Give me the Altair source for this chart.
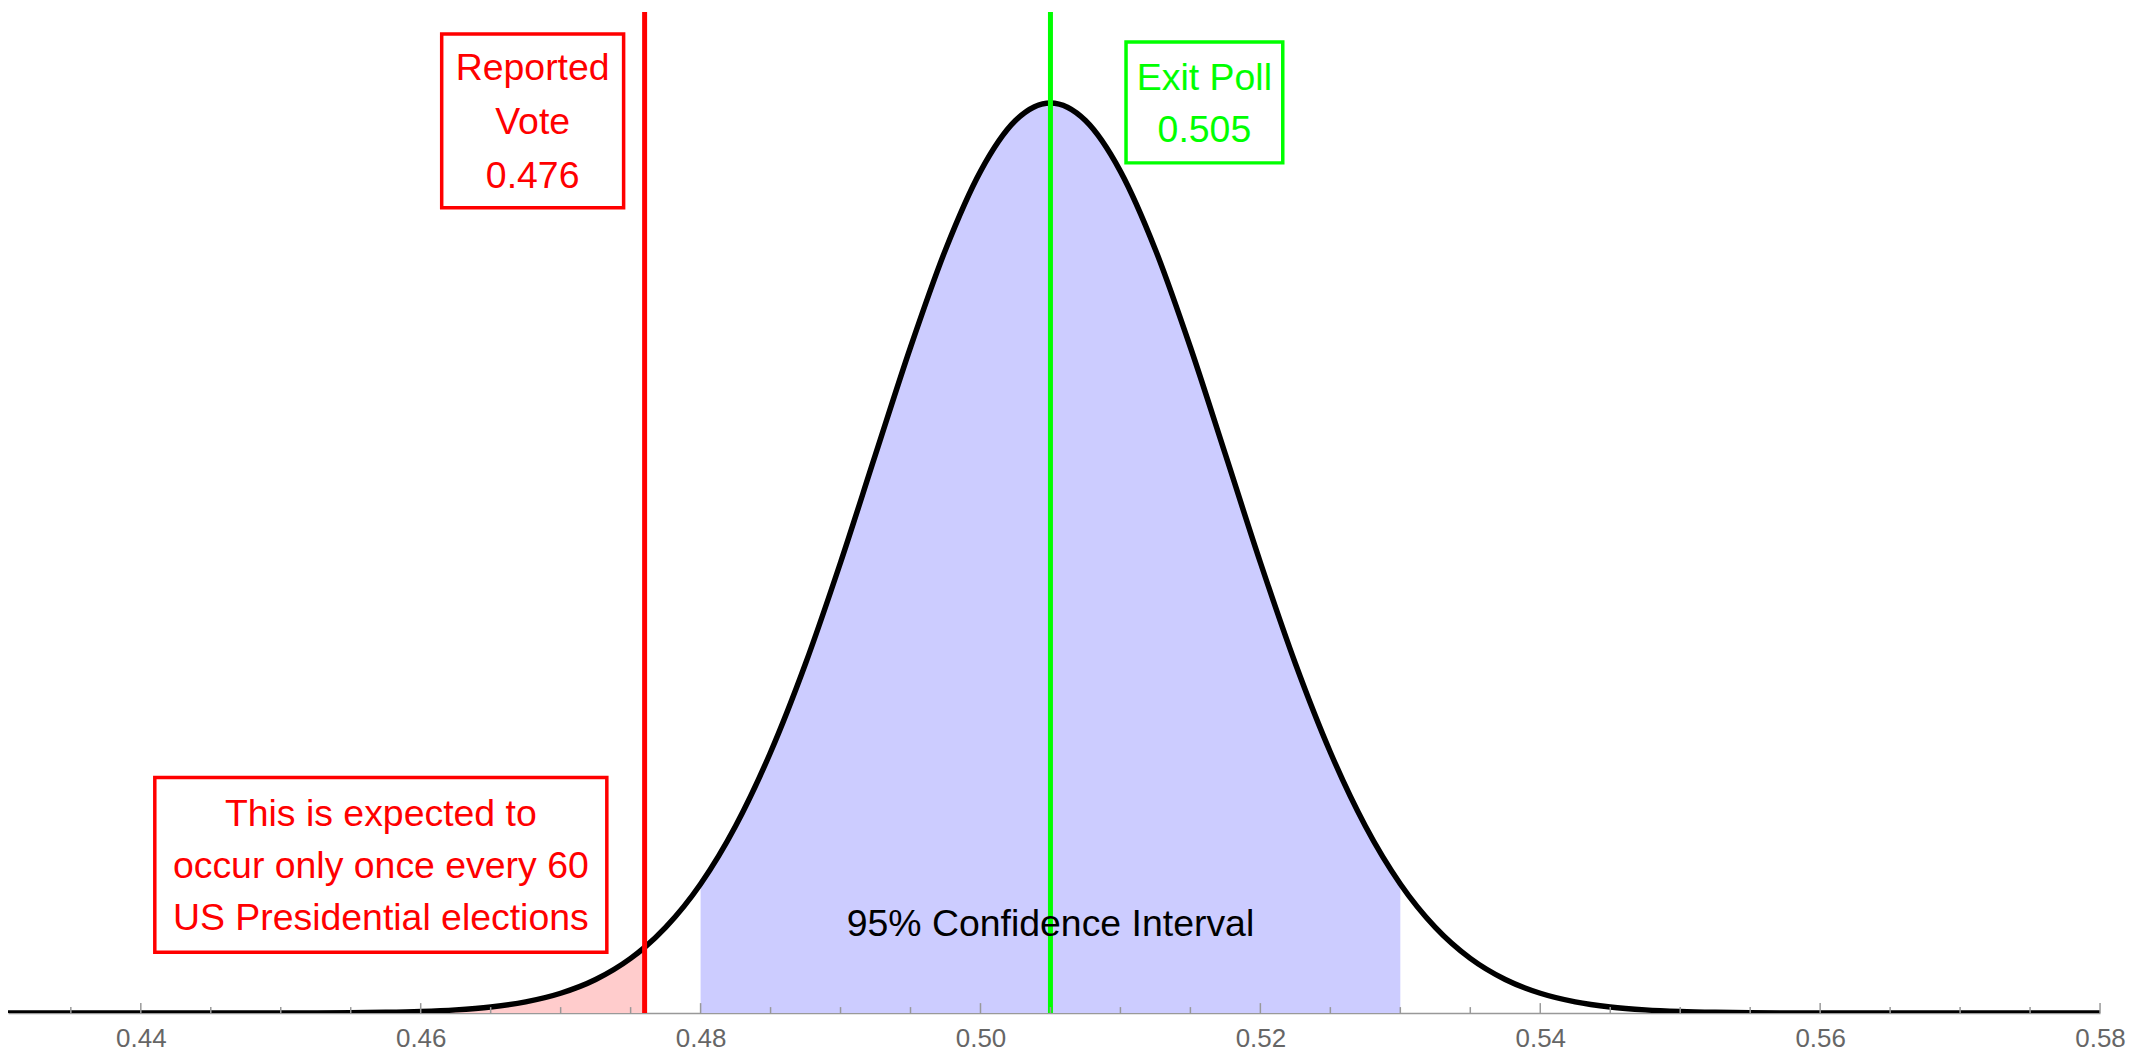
import altair as alt
import pandas as pd

# ---- data ----
curve_x = [0.4300, 0.4325, 0.4350, 0.4375, 0.4400, 0.4425, 0.4450, 0.4475,
           0.4500, 0.4525, 0.4550, 0.4575, 0.4600, 0.4625, 0.4650, 0.4675,
           0.4700, 0.4725, 0.4750, 0.4760, 0.4775, 0.4800, 0.4825, 0.4850,
           0.4875, 0.4900, 0.4925, 0.4950, 0.4975, 0.5000, 0.5025, 0.5050,
           0.5075, 0.5100, 0.5125, 0.5150, 0.5175, 0.5200, 0.5225, 0.5250,
           0.5275, 0.5300, 0.5325, 0.5350, 0.5375, 0.5400, 0.5425, 0.5450,
           0.5475, 0.5500, 0.5525, 0.5550, 0.5575, 0.5600, 0.5625, 0.5650,
           0.5675, 0.5700, 0.5725, 0.5750, 0.5775, 0.5800]
curve_y = [0.0, 0.0, 0.0, 0.0, 0.000002, 0.000005, 0.000013, 0.000033,
           0.00008, 0.00018, 0.00041, 0.00087, 0.00179, 0.00354, 0.00674, 0.01236,
           0.0218, 0.0369, 0.0601, 0.0722, 0.0942, 0.1419, 0.2056, 0.2866,
           0.3841, 0.4951, 0.6138, 0.7316, 0.8388, 0.9249, 0.9807, 1.0,
           0.9807, 0.9249, 0.8388, 0.7316, 0.6138, 0.4951, 0.3841, 0.2866,
           0.2056, 0.1419, 0.0942, 0.0601, 0.0369, 0.0218, 0.01236, 0.00674,
           0.00354, 0.00179, 0.00087, 0.00041, 0.00018, 0.00008, 0.00003, 0.00001,
           0.000005, 0.0, 0.0, 0.0, 0.0, 0.0]

major_ticks = [0.44, 0.46, 0.48, 0.50, 0.52, 0.54, 0.56, 0.58]
minor_ticks = [0.435, 0.445, 0.45, 0.455, 0.465, 0.47, 0.475, 0.485, 0.49,
               0.495, 0.505, 0.51, 0.515, 0.525, 0.53, 0.535, 0.545, 0.55,
               0.555, 0.565, 0.57, 0.575]

reported_vote = 0.476
exit_poll = 0.505
ci_low = 0.48
ci_high = 0.53

reported_lines = ["Reported", "Vote", "0.476"]
exit_lines = ["Exit Poll", "0.505"]
rare_lines = ["This is expected to", "occur only once every 60", "US Presidential elections"]
ci_label = "95% Confidence Interval"

# annotation anchors (data coordinates)
reported_box = dict(x=0.4615, x2=0.4745, y=1.0757, y2=0.8849)
reported_anchor = dict(x=0.4680, y=1.0252)
exit_box = dict(x=0.5104, x2=0.5216, y=1.0669, y2=0.9342)
exit_anchor = dict(x=0.5160, y=1.0143)
rare_box = dict(x=0.4410, x2=0.4733, y=0.2588, y2=0.0669)
rare_anchor = dict(x=0.45715, y=0.2061)
ci_anchor = dict(x=0.505, y=0.0844)
line_top = 1.1

RED = "#ff0000"
GREEN = "#00ff00"
FONT = "Liberation Sans"
TEXT_SIZE = 37.5

curve_df = pd.DataFrame({"x": curve_x, "y": curve_y})

X = alt.X("x:Q",
          scale=alt.Scale(domain=[0.43051, 0.58], nice=False, zero=False),
          axis=alt.Axis(values=major_ticks, format=".2f", title=None, grid=False,
                        ticks=False, tickSize=0, labelFontSize=26,
                        labelColor="#666666", labelFont=FONT, labelPadding=12,
                        labelFlush=False, labelOverlap=False,
                        domainColor="#999999", domainWidth=1.5))
Y = alt.Y("y:Q", scale=alt.Scale(domain=[0, 1.1], nice=False, zero=False), axis=None)

base = alt.Chart(curve_df)

red_area = base.transform_filter(alt.datum.x <= reported_vote).mark_area(
    color="#ffcccc", interpolate="monotone", clip=True).encode(x=X, y=Y)
blue_area = base.transform_filter(
    (alt.datum.x >= ci_low) & (alt.datum.x <= ci_high)).mark_area(
    color="#ccccff", interpolate="monotone", clip=True).encode(x=X, y=Y)
curve = base.mark_line(color="black", strokeWidth=5.5, interpolate="monotone",
                       clip=True).encode(x=X, y=Y)

def vline(xv, color):
    df = pd.DataFrame({"x": [xv], "y": [line_top], "y2": [0.0]})
    return alt.Chart(df).mark_rule(color=color, strokeWidth=5).encode(
        x=X, y=Y, y2="y2:Q")

red_line = vline(reported_vote, RED)
green_line = vline(exit_poll, GREEN)

major_rules = alt.Chart(pd.DataFrame({"x": major_ticks})).mark_rule(
    color="#999999", strokeWidth=1.5).encode(x=X, y=alt.value(1003), y2=alt.value(993))
minor_rules = alt.Chart(pd.DataFrame({"x": minor_ticks})).mark_rule(
    color="#999999", strokeWidth=1.5).encode(x=X, y=alt.value(1003), y2=alt.value(997))

def box(b, color):
    df = pd.DataFrame({"x": [b["x"]], "x2": [b["x2"]], "y": [b["y"]], "y2": [b["y2"]]})
    return alt.Chart(df).mark_rect(fill="white", stroke=color, strokeWidth=3.5).encode(
        x=X, x2="x2:Q", y=Y, y2="y2:Q")

def label(anchor, lines, color, lh):
    df = pd.DataFrame({"x": [anchor["x"]], "y": [anchor["y"]], "t": ["\n".join(lines)]})
    return alt.Chart(df).mark_text(font=FONT, fontSize=TEXT_SIZE, color=color,
                                   align="center", baseline="alphabetic",
                                   lineBreak="\n", lineHeight=lh).encode(
        x=X, y=Y, text="t:N")

chart = alt.layer(
    red_area, blue_area, curve, red_line, green_line, major_rules, minor_rules,
    box(reported_box, RED), label(reported_anchor, reported_lines, RED, 54),
    box(exit_box, GREEN), label(exit_anchor, exit_lines, GREEN, 52),
    box(rare_box, RED), label(rare_anchor, rare_lines, RED, 52.5),
    label(ci_anchor, [ci_label], "black", 40),
).properties(width=2096, height=1003, padding=0).configure_view(stroke=None)

chart.save("out.html", embed_options={"renderer": "svg", "actions": False})
